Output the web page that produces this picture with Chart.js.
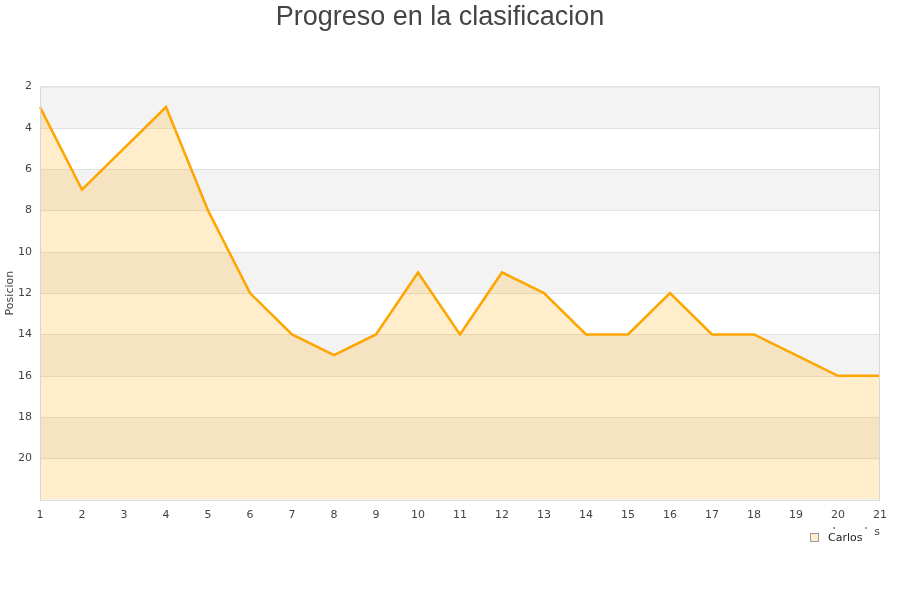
<!DOCTYPE html>
<html>
<head>
<meta charset="utf-8">
<script src="https://cdn.jsdelivr.net/npm/chart.js@4/dist/chart.umd.min.js"></script>
<style>
  html, body { margin: 0; padding: 0; background: #fff; }
  #wrap { width: 900px; height: 600px; }
</style>
</head>
<body>
<div id="wrap"><canvas id="progressChart"></canvas></div>
<script>
const jornadas = ["1", "2", "3", "4", "5", "6", "7", "8", "9", "10", "11", "12", "13", "14", "15", "16", "17", "18", "19", "20", "21"];
const posiciones = [3, 7, 5, 3, 8, 12, 14, 15, 14, 11, 14, 11, 12, 14, 14, 12, 14, 14, 15, 16, 16];
const jugador = "Carlos";
const greyBands = [[2, 4], [6, 8], [10, 12], [14, 16], [18, 20]];

// alternating grey bands behind the area, plus the plot frame
const bandsPlugin = {
  id: "bands",
  beforeDatasetsDraw(chart) {
    const { ctx, chartArea } = chart;
    const y = chart.scales.y;
    ctx.save();
    ctx.fillStyle = "#f3f3f3";
    greyBands.forEach(([from, to]) => {
      const top = y.getPixelForValue(from);
      const bottom = y.getPixelForValue(to);
      ctx.fillRect(chartArea.left, top, chartArea.right - chartArea.left, bottom - top);
    });
    ctx.strokeStyle = "#e2e2e2";
    ctx.lineWidth = 1;
    for (let v = 4; v <= 20; v += 2) {
      const py = Math.round(y.getPixelForValue(v)) + 0.5;
      ctx.beginPath();
      ctx.moveTo(chartArea.left, py);
      ctx.lineTo(chartArea.right, py);
      ctx.stroke();
    }
    ctx.restore();
  },
  afterDraw(chart) {
    const { ctx, chartArea } = chart;
    ctx.save();
    ctx.strokeStyle = "#d6d6d6";
    ctx.lineWidth = 1;
    ctx.strokeRect(chartArea.left + 0.5, chartArea.top + 0.5, chartArea.right - chartArea.left - 1, chartArea.bottom - chartArea.top);
    ctx.restore();
  }
};

// x axis title, then the legend on a white box that hides most of it
const legendPlugin = {
  id: "boxLegend",
  afterDraw(chart) {
    const { ctx, chartArea } = chart;
    ctx.save();
    ctx.font = "11px 'DejaVu Sans'";
    ctx.textBaseline = "middle";
    ctx.textAlign = "right";
    ctx.fillStyle = "#444";
    ctx.fillText("Jornadas", chartArea.right, 532);
    ctx.fillStyle = "#ffffff";
    ctx.fillRect(804, 529, 70, 20);
    ctx.fillStyle = "#ffedcc";
    ctx.fillRect(810.5, 533.5, 8, 8);
    ctx.strokeStyle = "#999";
    ctx.lineWidth = 1;
    ctx.strokeRect(810.5, 533.5, 8, 8);
    ctx.textAlign = "left";
    ctx.fillStyle = "#222";
    ctx.fillText(jugador, 828, 538);
    ctx.restore();
  }
};

const context = document.getElementById("progressChart").getContext("2d");
new Chart(context, {
  type: "line",
  data: {
    labels: jornadas,
    datasets: [
      {
        label: jugador,
        data: posiciones,
        borderColor: "#ffa500",
        backgroundColor: "rgba(255,165,0,0.2)",
        borderWidth: 2.5,
        pointRadius: 0,
        tension: 0,
        fill: "start"
      }
    ]
  },
  options: {
    responsive: true,
    maintainAspectRatio: false,
    animation: false,
    layout: { padding: { left: 0, right: 20, top: 0, bottom: 69 } },
    plugins: {
      legend: { display: false },
      tooltip: { enabled: false },
      title: {
        display: true,
        text: "Progreso en la clasificacion",
        color: "#444",
        font: { family: "'Liberation Sans', Arial, sans-serif", size: 27, weight: "normal" },
        padding: { top: 1, bottom: 53 }
      }
    },
    scales: {
      x: {
        offset: false,
        grid: { display: false, drawTicks: false },
        border: { display: false },
        ticks: { color: "#444", padding: 9, font: { family: "'DejaVu Sans'", size: 11 }, maxRotation: 0, autoSkip: false }
      },
      y: {
        reverse: true,
        min: 2,
        max: 22,
        afterFit: (scale) => { scale.width = 40; },
        grid: { display: false, drawTicks: false },
        border: { display: false },
        ticks: {
          stepSize: 2,
          color: "#444",
          padding: 8,
          font: { family: "'DejaVu Sans'", size: 11 },
          callback: (value) => (value === 22 ? "" : value)
        },
        title: { display: true, text: "Posicion", color: "#444", font: { family: "'DejaVu Sans'", size: 11 } }
      }
    }
  },
  plugins: [bandsPlugin, legendPlugin]
});
</script>
</body>
</html>
